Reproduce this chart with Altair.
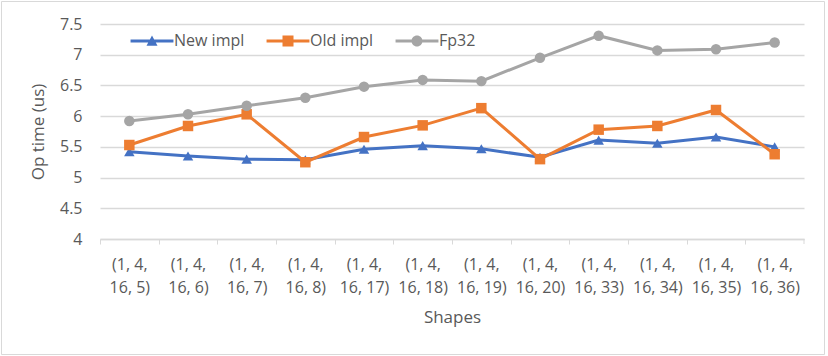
import altair as alt
import pandas as pd

# ---------------- data ----------------
shapes = ["(1, 4, 16, 5)", "(1, 4, 16, 6)", "(1, 4, 16, 7)", "(1, 4, 16, 8)",
          "(1, 4, 16, 17)", "(1, 4, 16, 18)", "(1, 4, 16, 19)", "(1, 4, 16, 20)",
          "(1, 4, 16, 33)", "(1, 4, 16, 34)", "(1, 4, 16, 35)", "(1, 4, 16, 36)"]
new_impl = [5.42, 5.35, 5.30, 5.29, 5.46, 5.52, 5.47, 5.33, 5.61, 5.56, 5.66, 5.50]
old_impl = [5.53, 5.84, 6.03, 5.25, 5.66, 5.85, 6.13, 5.30, 5.78, 5.84, 6.10, 5.38]
fp32 = [5.92, 6.03, 6.17, 6.30, 6.48, 6.59, 6.57, 6.95, 7.31, 7.07, 7.09, 7.20]
series_names = ["New impl", "Old impl", "Fp32"]
y_ticks = [4, 4.5, 5, 5.5, 6, 6.5, 7, 7.5]

# ---------------- style ----------------
colors = ["#4472C4", "#ED7D31", "#A5A5A5"]
marker_shapes = ["triangle-up", "square", "circle"]
TEXT = "#595959"
GRID = "#d9d9d9"
FONT = "Open Sans"
LABEL_SIZE = 16

rows = []
for name, vals in zip(series_names, [new_impl, old_impl, fp32]):
    for s, v in zip(shapes, vals):
        rows.append({"shape": s, "series": name, "time": v})
df = pd.DataFrame(rows)

W, H = 704, 215
step = W / len(shapes)

bar = "M-3.9,-0.27H3.9V0.27H-3.9Z "
legend_paths = [
    bar + "M0,-1L1,0.85H-1Z",
    bar + "M-1,-1H1V1H-1Z",
    bar + "M-1,0A1,1,0,1,1,1,0A1,1,0,1,1,-1,0Z",
]

color_scale = alt.Scale(domain=series_names, range=colors)

legend = alt.Legend(
    orient="none", legendX=28, legendY=9, direction="horizontal",
    symbolSize=121, symbolStrokeWidth=0, symbolOffset=16, labelOffset=14,
    symbolOpacity=1, columnPadding=19, padding=0,
    labelFont=FONT, labelFontSize=LABEL_SIZE, labelColor=TEXT, labelLimit=0,
)

x_enc = alt.X(
    "shape:N", sort=shapes, scale=alt.Scale(type="point", padding=0.5),
    axis=alt.Axis(
        title="Shapes", labelAngle=0,
        labelExpr="[slice(datum.label, 0, 6), slice(datum.label, 7)]",
        labelLineHeight=23, labelPadding=12, labelOverlap=False,
        tickOffset=-step / 2, labelOffset=step / 2, tickSize=5,
        tickColor=GRID, tickWidth=1, domainColor=GRID, domainWidth=1.5,
        labelFont=FONT, labelFontSize=LABEL_SIZE, labelColor=TEXT,
        titleFont=FONT, titleFontSize=17, titleColor=TEXT,
        titleFontWeight="normal", titlePadding=14, grid=False,
    ),
)
y_enc = alt.Y(
    "time:Q", scale=alt.Scale(domain=[4, 7.5], nice=False, zero=False),
    axis=alt.Axis(
        values=y_ticks, format="~g", domain=False, ticks=False,
        grid=True, gridColor=GRID, gridWidth=1.3,
        labelFont=FONT, labelFontSize=LABEL_SIZE, labelColor=TEXT, labelPadding=18,
        title="Op time (us)", titleFont=FONT, titleFontSize=17,
        titleColor=TEXT, titleFontWeight="normal", titlePadding=12,
    ),
)

base = alt.Chart(df)

border = alt.Chart(alt.Data(values=[{}])).mark_rect(
    filled=False, stroke=GRID, strokeWidth=1
).encode(x=alt.value(-98.5), x2=alt.value(724.5),
         y=alt.value(-22.5), y2=alt.value(330.5))

last_tick = alt.Chart(alt.Data(values=[{}])).mark_rule(
    color=GRID, strokeWidth=1
).encode(x=alt.value(W), y=alt.value(H), y2=alt.value(H + 5))

# legend-only layer: invisible marks that carry the legend (line + marker symbols)
legend_layer = alt.Chart(alt.Data(values=[{"series": n} for n in series_names])).mark_point(
    filled=True, opacity=0, strokeWidth=0
).encode(
    x=alt.value(0), y=alt.value(0),
    color=alt.Color("series:N", scale=color_scale, legend=legend, title=None),
    shape=alt.Shape("series:N", scale=alt.Scale(domain=series_names, range=legend_paths),
                    legend=legend, title=None),
)

layers = [border, last_tick]
for i, name in enumerate(series_names):
    sub = base.transform_filter(alt.datum.series == name)
    line = sub.mark_line(strokeWidth=3, color=colors[i]).encode(x=x_enc, y=y_enc)
    pts = sub.mark_point(filled=True, shape=marker_shapes[i], size=110,
                         color=colors[i], opacity=1).encode(x=x_enc, y=y_enc)
    layers += [line, pts]
layers.append(legend_layer)

chart = alt.layer(*layers).properties(
    width=W, height=H,
    autosize=alt.AutoSizeParams(type="none"),
    padding={"left": 100, "top": 24, "right": 24, "bottom": 117},
    background="white",
).configure_view(strokeWidth=0)

chart.save("out.html", embed_options={"renderer": "svg", "actions": False})
